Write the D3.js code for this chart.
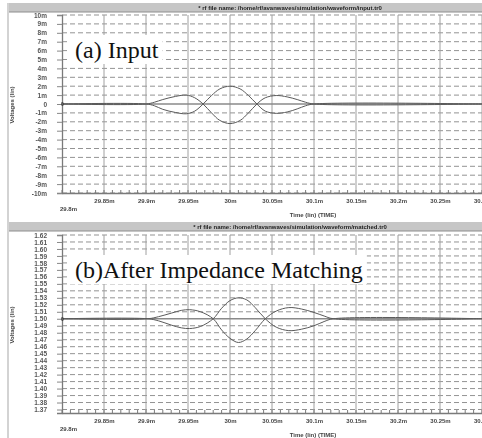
<!DOCTYPE html>
<html>
<head>
<meta charset="utf-8">
<script src="https://cdn.jsdelivr.net/npm/d3@7"></script>
<style>
body { margin: 0; background: #fff; }
svg { display: block; }
</style>
</head>
<body>
<script>
// time axis (ms), shared by both panels
var timeTicks = [29.8, 29.85, 29.9, 29.95, 30, 30.05, 30.1, 30.15, 30.2, 30.25, 30.3];
var timeLabels = ["29.8m", "29.85m", "29.9m", "29.95m", "30m", "30.05m", "30.1m", "30.15m", "30.2m", "30.25m", "30.3m"];

// (a) input, two traces
var inputTime = [29.8, 29.9, 29.91, 29.92, 29.935, 29.948, 29.958, 29.968, 29.978, 29.988, 30, 30.012, 30.022, 30.032, 30.042, 30.055, 30.068, 30.08, 30.09, 30.1, 30.3];
var inputPos  = [0, 0, 0.2, 0.5, 0.85, 1.0, 0.7, 0, -1.0, -1.85, -2.2, -1.85, -1.0, 0, 0.7, 0.95, 0.8, 0.5, 0.2, 0, 0];
var inputNeg  = [0, 0, -0.2, -0.6, -0.95, -1.1, -0.8, 0, 0.95, 1.7, 2.0, 1.7, 0.95, 0, -0.8, -1.05, -0.9, -0.55, -0.2, 0, 0];
var inputYTicks  = [10, 9, 8, 7, 6, 5, 4, 3, 2, 1, 0, -1, -2, -3, -4, -5, -6, -7, -8, -9, -10];
var inputYLabels = ["10m", "9m", "8m", "7m", "6m", "5m", "4m", "3m", "2m", "1m", "0", "-1m", "-2m", "-3m", "-4m", "-5m", "-6m", "-7m", "-8m", "-9m", "-10m"];

// (b) after impedance matching
var matchTime = [29.8, 29.902, 29.915, 29.93, 29.942, 29.952, 29.965, 29.98, 29.99, 30.0, 30.01, 30.02, 30.03, 30.042, 30.055, 30.07, 30.085, 30.1, 30.112, 30.123, 30.3];
var matchPos  = [0, 0, 0.3, 0.8, 1.2, 1.3, 1.0, 0, -1.6, -2.8, -3.4, -2.9, -1.7, 0, 1.1, 1.6, 1.4, 0.9, 0.4, 0, 0];
var matchNeg  = [0, 0, -0.3, -0.9, -1.3, -1.4, -1.1, 0, 1.5, 2.6, 3.0, 2.7, 1.6, 0, -1.2, -1.7, -1.5, -1.0, -0.4, 0, 0];
var matchYTicks  = [12, 11, 10, 9, 8, 7, 6, 5, 4, 3, 2, 1, 0, -1, -2, -3, -4, -5, -6, -7, -8, -9, -10, -11, -12, -13];
var matchYLabels = ["1.62", "1.61", "1.60", "1.59", "1.58", "1.57", "1.56", "1.55", "1.54", "1.53", "1.52", "1.51", "1.50",
                    "1.49", "1.48", "1.47", "1.46", "1.45", "1.44", "1.43", "1.42", "1.41", "1.40", "1.39", "1.38", "1.37"];

var width = 482, height = 438;

var svg = d3.select("body").append("svg")
    .attr("width", width)
    .attr("height", height);

// the scan is soft, so blur the thin stuff a little
svg.append("defs").append("filter")
    .attr("id", "soft")
    .append("feGaussianBlur")
    .attr("stdDeviation", 0.45);

// left frame line of the figure
svg.append("line")
    .attr("x1", 8).attr("x2", 8)
    .attr("y1", 3).attr("y2", height)
    .attr("stroke", "#c4c4c4").attr("stroke-width", 1.5);

var panels = [
    {
        title: "* rf file name: /home/rf/avanwaves/simulation/waveform/input.tr0",
        label: "(a) Input",
        time: inputTime, pos: inputPos, neg: inputNeg,
        yTicks: inputYTicks, yLabels: inputYLabels,
        yDomain: [-10, 10],
        barY: 3, top: 15, bottom: 193, labelY: 58
    },
    {
        title: "* rf file name: /home/rf/avanwaves/simulation/waveform/matched.tr0",
        label: "(b)After Impedance Matching",
        time: matchTime, pos: matchPos, neg: matchNeg,
        yTicks: matchYTicks, yLabels: matchYLabels,
        yDomain: [-13.5, 12],
        barY: 222, top: 235, bottom: 413, labelY: 278
    }
];

panels.forEach(drawPanel);

function drawPanel(p) {
    var left = 62;

    var x = d3.scaleLinear()
        .domain([29.8, 30.3])
        .range([left, width]);

    var y = d3.scaleLinear()
        .domain(p.yDomain)
        .range([p.bottom, p.top]);

    var g = svg.append("g").attr("filter", "url(#soft)");

    //grey title bar
    g.append("rect")
        .attr("x", 9).attr("y", p.barY)
        .attr("width", width - 9).attr("height", 9)
        .attr("fill", "#c6c6c6");
    g.append("line")
        .attr("x1", 9).attr("x2", width)
        .attr("y1", p.barY + 9).attr("y2", p.barY + 9)
        .attr("stroke", "#8e8e8e");
    g.append("text")
        .attr("x", 290).attr("y", p.barY + 6.5)
        .attr("text-anchor", "middle")
        .style("font", "bold 6px 'Liberation Sans', sans-serif")
        .attr("fill", "#222")
        .text(p.title);

    //horizontal dashed grid
    g.selectAll(".hgrid")
        .data(p.yTicks.filter(function (d) { return d !== 0; }))
        .enter().append("line")
        .attr("x1", left).attr("x2", width)
        .attr("y1", function (d) { return y(d); })
        .attr("y2", function (d) { return y(d); })
        .attr("stroke", "#939393")
        .attr("stroke-width", 1)
        .attr("stroke-dasharray", "5,3");

    //vertical solid grid
    g.selectAll(".vgrid")
        .data(timeTicks.slice(1))
        .enter().append("line")
        .attr("x1", function (d) { return x(d); })
        .attr("x2", function (d) { return x(d); })
        .attr("y1", p.top).attr("y2", p.bottom)
        .attr("stroke", "#a0a0a0");

    //zero line
    g.append("line")
        .attr("x1", left).attr("x2", width)
        .attr("y1", y(0)).attr("y2", y(0))
        .attr("stroke", "#8a8a8a").attr("stroke-width", 1.3);

    //axes
    var xAxis = d3.axisBottom(x)
        .tickValues(timeTicks)
        .tickFormat(function (d, i) { return timeLabels[i]; })
        .tickSize(0)
        .tickPadding(6);
    var gx = g.append("g")
        .attr("transform", "translate(0," + p.bottom + ")")
        .call(xAxis);
    gx.select(".domain").attr("stroke", "#7a7a7a").attr("stroke-width", 1.3);
    gx.selectAll("text")
        .style("font", "bold 6px 'Liberation Sans', sans-serif")
        .attr("fill", "#444")
        .attr("dy", function (d, i) { return i === 0 ? "2em" : "0.71em"; })
        .attr("dx", function (d, i) { return i === 0 ? "1em" : 0; });

    //minor ticks along time axis
    g.selectAll(".xminor")
        .data(d3.range(0, 51).map(function (i) { return 29.8 + i * 0.01; }))
        .enter().append("line")
        .attr("x1", function (d) { return x(d); })
        .attr("x2", function (d) { return x(d); })
        .attr("y1", p.bottom).attr("y2", p.bottom - 3)
        .attr("stroke", "#7a7a7a");

    var yAxis = d3.axisLeft(y)
        .tickValues(p.yTicks)
        .tickFormat(function (d, i) { return p.yLabels[i]; })
        .tickSize(5)
        .tickPadding(10);
    var gy = g.append("g")
        .attr("transform", "translate(" + left + ",0)")
        .call(yAxis);
    gy.select(".domain").attr("stroke", "#7a7a7a").attr("stroke-width", 1.3);
    gy.selectAll(".tick line").attr("stroke", "#888");
    gy.selectAll("text")
        .style("font", "bold 6.5px 'Liberation Sans', sans-serif")
        .attr("fill", "#555");

    //axis titles
    g.append("text")
        .attr("x", 313).attr("y", p.bottom + 24)
        .attr("text-anchor", "middle")
        .style("font", "bold 6px 'Liberation Sans', sans-serif")
        .attr("fill", "#444")
        .text("Time (lin) (TIME)");
    g.append("text")
        .attr("transform", "translate(14," + ((p.top + p.bottom) / 2 + 1) + ") rotate(-90)")
        .attr("text-anchor", "middle")
        .style("font", "bold 6px 'Liberation Sans', sans-serif")
        .attr("fill", "#444")
        .text("Voltages (lin)");

    //the two traces
    var line = d3.line()
        .x(function (d) { return x(d[0]); })
        .y(function (d) { return y(d[1]); })
        .curve(d3.curveCatmullRom);

    [p.pos, p.neg].forEach(function (vals) {
        g.append("path")
            .datum(p.time.map(function (t, i) { return [t, vals[i]]; }))
            .attr("d", line)
            .attr("fill", "none")
            .attr("stroke", "#5a5a5a")
            .attr("stroke-width", 1);
    });

    g.append("text")
        .attr("x", left - 1).attr("y", y(0) + 2)
        .style("font", "bold 5px 'Liberation Sans', sans-serif")
        .attr("fill", "#333")
        .text("0");

    //panel caption on a white patch
    var cap = svg.append("g");
    var capText = cap.append("text")
        .attr("x", 75).attr("y", p.labelY)
        .style("font", "24px 'Liberation Serif', serif")
        .attr("fill", "#111")
        .text(p.label);
    var bb = capText.node().getBBox();
    cap.insert("rect", "text")
        .attr("x", bb.x - 8).attr("y", bb.y - 2)
        .attr("width", bb.width + 12).attr("height", bb.height + 3)
        .attr("fill", "#fff");
}
</script>
</body>
</html>
